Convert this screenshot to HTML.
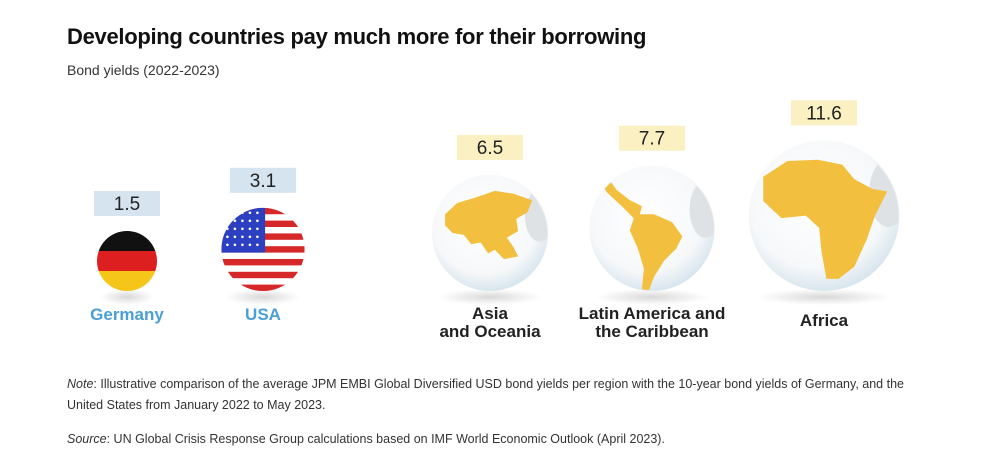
<!DOCTYPE html>
<html><head><meta charset="utf-8"><style>
body{margin:0;width:1000px;height:475px;background:#fff;font-family:"Liberation Sans",sans-serif;overflow:hidden;position:relative}
.t{position:absolute;left:67px;top:24px;font-size:22px;font-weight:bold;color:#111;letter-spacing:-0.3px}
.s{position:absolute;left:67px;top:62px;font-size:14px;color:#333}
.n{position:absolute;left:67px;font-size:12.5px;color:#333;line-height:21px;width:845px}
</style></head><body>
<div class="t">Developing countries pay much more for their borrowing</div>
<div class="s">Bond yields (2022-2023)</div>
<svg id="c" width="1000" height="475" style="position:absolute;left:0;top:0">
<defs>
<radialGradient id="gl" cx="45%" cy="40%" r="60%"><stop offset="0" stop-color="#fff"/><stop offset="0.75" stop-color="#f6f8fa"/><stop offset="1" stop-color="#d9e6ee"/></radialGradient>
<radialGradient id="sh" cx="50%" cy="50%" r="50%"><stop offset="0" stop-color="#000" stop-opacity="0.15"/><stop offset="1" stop-color="#000" stop-opacity="0"/></radialGradient>
<linearGradient id="de" x1="0" y1="0" x2="0" y2="1"><stop offset="0" stop-color="#111"/><stop offset="0.333" stop-color="#111"/><stop offset="0.333" stop-color="#dd1f1f"/><stop offset="0.666" stop-color="#dd1f1f"/><stop offset="0.666" stop-color="#f6c51a"/><stop offset="1" stop-color="#f6c51a"/></linearGradient>
</defs>
</svg>
<div class="n" style="top:374px"><i>Note</i>: Illustrative comparison of the average JPM EMBI Global Diversified USD bond yields per region with the 10-year bond yields of Germany, and the<br>United States from January 2022 to May 2023.</div>
<div class="n" style="top:429px"><i>Source</i>: UN Global Crisis Response Group calculations based on IMF World Economic Outlook (April 2023).</div>
<script>
const names=["Germany","USA","Asia|and Oceania","Latin America and|the Caribbean","Africa"];
const values=[1.5,3.1,6.5,7.7,11.6];
const kinds=["de","us","asia","latam","africa"];
const centersX=[127,263,490,652,824];
const svg=document.getElementById('c');
const NS="http://www.w3.org/2000/svg";
function rScale(v){return 25*Math.pow(v,0.45);}
const baseY=291;
function mk(t,a,p){const e=document.createElementNS(NS,t);for(const k in a)e.setAttribute(k,a[k]);(p||svg).appendChild(e);return e;}
const shapes={
asia:"M-48,-20 L-35,-32 L-15,-38 L5,-45 L25,-42 L45,-35 L40,-22 L28,-15 L30,-2 L18,5 L25,15 L30,25 L15,28 L5,18 L-2,22 L-10,10 L-20,12 L-28,2 L-40,0 L-48,-8 Z",
latam:"M-55,-55 L-45,-52 L-35,-38 L-22,-28 L-10,-22 L-12,-14 L2,-14 L20,-6 L30,8 L24,20 L12,32 L2,48 L-4,64 L-10,60 L-8,40 L-14,20 L-22,2 L-18,-10 L-30,-22 L-45,-36 Z",
africa:"M-50,-32 L-30,-45 L-5,-46 L15,-42 L25,-30 L40,-22 L52,-20 L42,0 L35,20 L25,42 L12,52 L2,52 L-2,30 L-4,10 L-15,0 L-35,2 L-50,-12 Z"
};
values.forEach((v,i)=>{
 const r=rScale(v),cx=centersX[i],cy=baseY-r;
 const g=mk('g',{});
 
 
 mk('ellipse',{cx:cx,cy:baseY+6,rx:r*0.9,ry:8,fill:'url(#sh)'},g);
 if(kinds[i]=='de'){
  mk('circle',{cx:cx,cy:cy,r:r,fill:'url(#de)'},g);
 }else if(kinds[i]=='us'){
  const cp=mk('clipPath',{id:'usc'},g);mk('circle',{cx:cx,cy:cy,r:r},cp);
  const u=mk('g',{'clip-path':'url(#usc)'},g);
  mk('rect',{x:cx-r,y:cy-r,width:2*r,height:2*r,fill:'#fff'},u);
  for(let k=0;k<13;k+=2)mk('rect',{x:cx-r,y:cy-r+k*2*r/13,width:2*r,height:2*r/13,fill:'#d62828'},u);
  mk('rect',{x:cx-r,y:cy-r,width:r*1.05,height:2*r*7/13,fill:'#2b3fc0'},u);
  for(let a=0;a<5;a++)for(let b=0;b<5;b++)mk('circle',{cx:cx-r+6+b*7.5,cy:cy-r+5+a*8,r:1.3,fill:'#fff'},u);
 }else{
  mk('circle',{cx:cx,cy:cy,r:r,fill:'url(#gl)'},g);
  const id='cl'+i;
  const cp=mk('clipPath',{id:id},g);mk('circle',{cx:cx,cy:cy,r:r-1},cp);
  const u=mk('g',{'clip-path':'url(#'+id+')'},g);
  mk('ellipse',{cx:cx+r*0.85,cy:cy-r*0.3,rx:r*0.25,ry:r*0.45,fill:'#dfe2e5'},u);
  const s=r/62;
  mk('path',{d:shapes[kinds[i]],fill:'#f2c03e',transform:`translate(${cx},${cy}) scale(${s})`},u);
 }
 const bw=66,bh=25,by=cy-r-15-bh;
 mk('rect',{x:cx-bw/2,y:by,width:bw,height:bh,fill:i<2?'#d6e4ef':'#fbf0c2'},g);
 const t=mk('text',{x:cx,y:by+19,'text-anchor':'middle','font-size':19,fill:'#222','font-family':'Liberation Sans, sans-serif'},g);
 t.textContent=v;
 const lines=names[i].split('|');
 const ly=i<2?320:(lines.length>1?319:326);
 lines.forEach((l,j)=>{
  const tt=mk('text',{x:cx,y:ly+j*18,'text-anchor':'middle','font-size':17,'font-weight':'bold',fill:i<2?'#4a9fd5':'#222','font-family':'Liberation Sans, sans-serif'},g);
  tt.textContent=l;
 });
});
</script>
</body></html>
